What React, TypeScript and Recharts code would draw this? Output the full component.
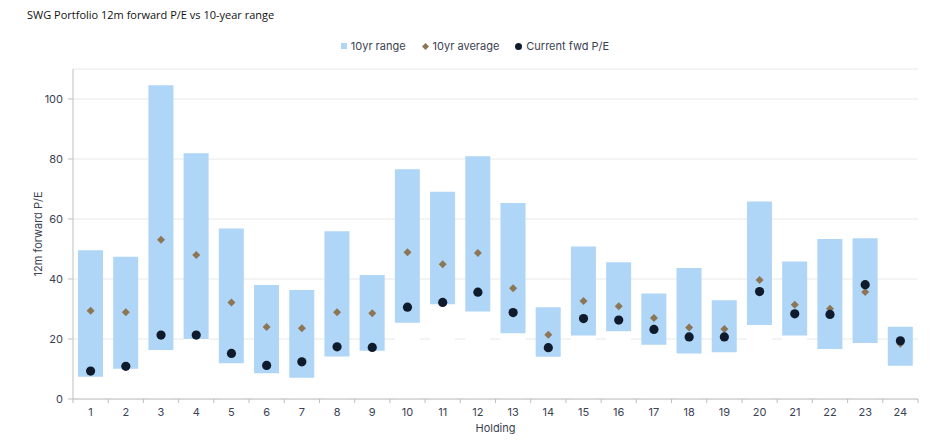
import React from 'react';
import {
  ComposedChart, Bar, Scatter, XAxis, YAxis, CartesianGrid,
} from 'recharts';

// Holdings 1..24
const holdings = ['1', '2', '3', '4', '5', '6', '7', '8', '9', '10', '11', '12',
  '13', '14', '15', '16', '17', '18', '19', '20', '21', '22', '23', '24'];

// 10yr range low / high
const rangeLow = [7.4, 10.1, 16.3, 20.0, 11.9, 8.6, 7.1, 14.2, 16.1, 25.4, 31.6, 29.2,
  21.9, 14.1, 21.2, 22.6, 18.1, 15.2, 15.6, 24.7, 21.2, 16.7, 18.7, 11.1];
const rangeHigh = [49.6, 47.4, 104.6, 81.9, 56.8, 38.0, 36.3, 55.9, 41.3, 76.6, 69.1, 80.9,
  65.3, 30.6, 50.8, 45.6, 35.2, 43.7, 32.9, 65.8, 45.8, 53.3, 53.6, 24.1];

// 10yr average
const avgPE = [29.4, 28.9, 53.1, 48.0, 32.2, 24.0, 23.6, 28.9, 28.6, 48.9, 44.9, 48.7,
  36.9, 21.4, 32.7, 30.9, 27.0, 23.8, 23.3, 39.7, 31.4, 30.1, 35.7, 18.4];

// Current fwd P/E
const currentPE = [9.3, 10.9, 21.3, 21.3, 15.2, 11.2, 12.4, 17.4, 17.2, 30.6, 32.2, 35.6,
  28.8, 17.1, 26.8, 26.3, 23.2, 20.7, 20.7, 35.8, 28.4, 28.2, 38.1, 19.4];

const yTicks = [0, 20, 40, 60, 80, 100];

const data = holdings.map((h, i) => ({
  holding: h,
  low: rangeLow[i],
  range: +(rangeHigh[i] - rangeLow[i]).toFixed(2),
  avg: avgPE[i],
  current: currentPE[i],
}));

const W = 940;
const H = 444;
const M = { top: 69, right: 22, bottom: 0, left: 0 };
const Y_W = 73;
const X_H = 45;
const HALF_BAND = (W - M.left - M.right - Y_W) / holdings.length / 2;

const FONT = 'Inter, "Noto Sans", sans-serif';
const TEXT = '#3b4252';
const AXIS = '#bfbfbf';

const BLUE = '#afd5f7';
const BROWN = '#8c7656';
const NAVY = '#0f1b2c';

function Diamond(props: any) {
  const { cx, cy } = props;
  if (cx == null || cy == null) return null;
  const r = 4;
  return <path d={`M${cx},${cy - r}L${cx + r},${cy}L${cx},${cy + r}L${cx - r},${cy}Z`} fill={BROWN} />;
}

function Dot(props: any) {
  const { cx, cy } = props;
  if (cx == null || cy == null) return null;
  return <circle cx={cx} cy={cy} r={4.6} fill={NAVY} />;
}

function HoldingTick(props: any) {
  const { x, y, payload, index } = props;
  const axisY = y - 9;
  return (
    <g>
      <line x1={x + HALF_BAND} x2={x + HALF_BAND} y1={axisY} y2={axisY + 4} stroke={AXIS} />
      {index === 0 && (
        <line x1={x - HALF_BAND} x2={x - HALF_BAND} y1={axisY} y2={axisY + 4} stroke={AXIS} />
      )}
      <text x={x} y={y} dy="0.71em" textAnchor="middle" fill={TEXT} fontSize={11} fontFamily={FONT}>
        {payload.value}
      </text>
    </g>
  );
}

function LegendRow() {
  const item = { display: 'flex', alignItems: 'center', gap: 4 } as const;
  return (
    <div
      style={{
        position: 'absolute', top: 39, left: 0, width: 950, display: 'flex',
        justifyContent: 'center', gap: 16, fontFamily: FONT, fontSize: 11, color: TEXT,
      }}
    >
      <div style={item}>
        <svg width={6} height={6}><rect width={6} height={6} fill={BLUE} /></svg>
        <span>10yr range</span>
      </div>
      <div style={item}>
        <svg width={7} height={7}><path d="M3.5,0L7,3.5L3.5,7L0,3.5Z" fill={BROWN} /></svg>
        <span>10yr average</span>
      </div>
      <div style={item}>
        <svg width={7} height={7}><circle cx={3.5} cy={3.5} r={3.5} fill={NAVY} /></svg>
        <span>Current fwd P/E</span>
      </div>
    </div>
  );
}

export default function App() {
  return (
    <div style={{ position: 'absolute', left: 0, top: 0, width: W, height: H, background: '#fff' }}>
      <div
        style={{
          position: 'absolute', left: 27, top: 7, fontFamily: '"Open Sans", sans-serif',
          fontSize: 11, color: '#111',
        }}
      >
        SWG Portfolio 12m forward P/E vs 10-year range
      </div>
      <LegendRow />
      <ComposedChart width={W} height={H} data={data} margin={M}>
        <CartesianGrid vertical={false} stroke="#e8e8e8" />
        <XAxis
          dataKey="holding"
          height={X_H}
          stroke={AXIS}
          tickLine={false}
          tickSize={4}
          tickMargin={5}
          tick={<HoldingTick />}
          interval={0}
          label={{ value: 'Holding', position: 'insideBottom', offset: 12, fill: TEXT, fontSize: 11, fontFamily: FONT }}
        />
        <YAxis
          width={Y_W}
          domain={[0, 110]}
          ticks={yTicks}
          stroke={AXIS}
          tickSize={5}
          tickMargin={5}
          tick={{ fill: TEXT, fontSize: 11, fontFamily: FONT }}
          label={{ value: '12m forward P/E', angle: -90, position: 'center', dx: 2, fill: TEXT, fontSize: 11, fontFamily: FONT }}
        />
        <Bar dataKey="low" stackId="r" fill="#ffffff" barSize={25} isAnimationActive={false} />
        <Bar dataKey="range" stackId="r" fill={BLUE} barSize={25} isAnimationActive={false} />
        <Scatter dataKey="avg" shape={<Diamond />} isAnimationActive={false} />
        <Scatter dataKey="current" shape={<Dot />} isAnimationActive={false} />
      </ComposedChart>
    </div>
  );
}
